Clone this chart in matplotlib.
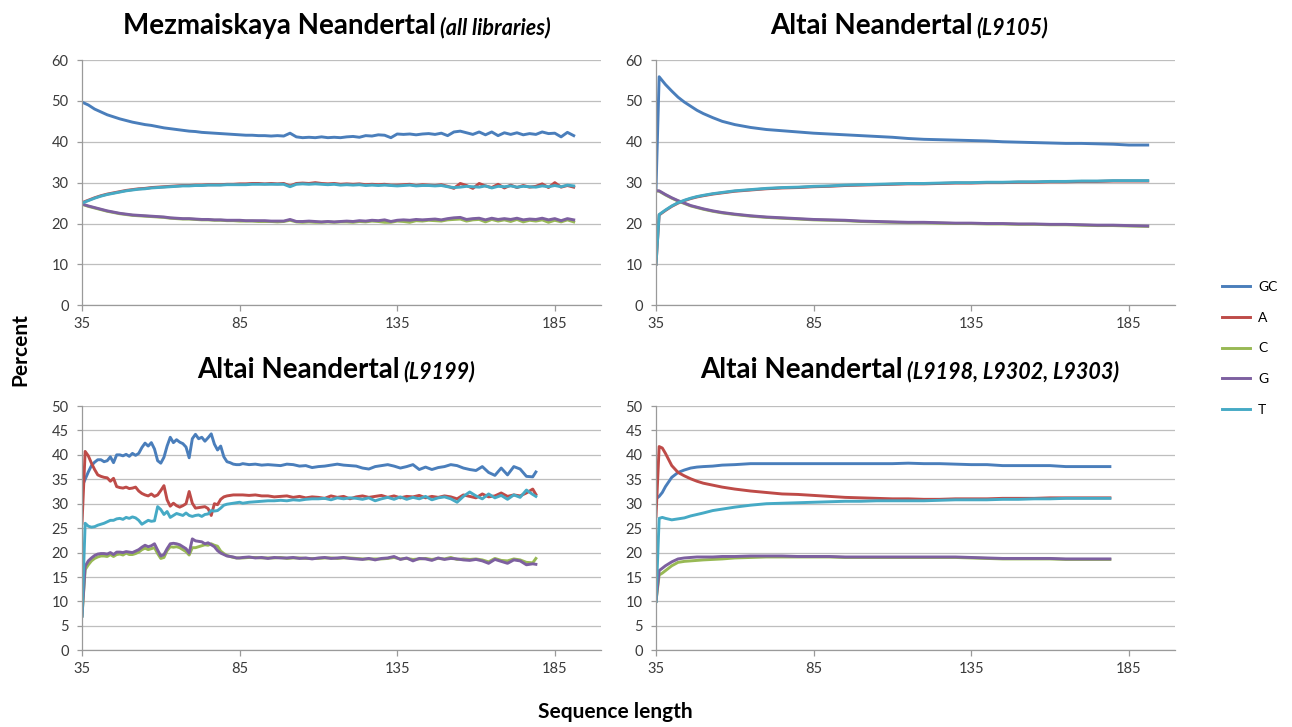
import matplotlib
matplotlib.use('Agg')
import matplotlib.pyplot as plt

plt.rcParams['font.family'] = ['Lato', 'DejaVu Sans']

series_names = ['GC', 'A', 'C', 'G', 'T']
series_colors = ['#4A7EBB', '#BE4B48', '#98B954', '#7D60A0', '#46AAC5']
x_ticks = [35, 85, 135, 185]

# --- Mezmaiskaya Neandertal (all libraries) ---
x1 = list(range(35, 192, 2))
gc1 = [49.7, 49.0, 48.0, 47.3, 46.6, 46.1, 45.6, 45.2, 44.8, 44.5,
       44.2, 44.0, 43.7, 43.4, 43.2, 43.0, 42.8, 42.6, 42.5, 42.3,
       42.2, 42.1, 42.0, 41.9, 41.8, 41.7, 41.6, 41.6, 41.5, 41.5,
       41.4, 41.5, 41.4, 42.1, 41.2, 41.0, 41.1, 41.0, 41.2, 41.0,
       41.1, 41.0, 41.2, 41.3, 41.1, 41.5, 41.4, 41.7, 41.6, 41.0,
       41.9, 41.8, 41.9, 41.7, 41.9, 42.0, 41.8, 42.1, 41.5, 42.4,
       42.6, 42.2, 41.8, 42.4, 41.7, 42.4, 41.5, 42.2, 41.8, 42.2,
       41.7, 42.0, 41.8, 42.4, 42.0, 42.1, 41.2, 42.3, 41.5]
a1 = [25.1, 25.7, 26.3, 26.8, 27.2, 27.5, 27.8, 28.1, 28.3, 28.5,
      28.6, 28.8, 28.9, 29.0, 29.1, 29.2, 29.3, 29.3, 29.4, 29.4,
      29.5, 29.5, 29.5, 29.6, 29.6, 29.7, 29.7, 29.8, 29.8, 29.7,
      29.8, 29.7, 29.8, 29.2, 29.8, 29.9, 29.8, 30.0, 29.8, 29.7,
      29.8, 29.6, 29.7, 29.6, 29.7, 29.5, 29.6, 29.5, 29.6, 29.4,
      29.4, 29.5, 29.6, 29.3, 29.5, 29.4, 29.3, 29.5, 29.1, 28.6,
      29.8, 29.3, 28.6, 29.8, 29.2, 28.8, 29.6, 28.7, 29.4, 28.8,
      29.3, 28.9, 29.1, 29.7, 28.8, 30.0, 28.9, 29.3, 28.9]
c1 = [24.7, 24.2, 23.8, 23.4, 23.0, 22.7, 22.4, 22.2, 22.0, 21.9,
      21.8, 21.7, 21.6, 21.5, 21.3, 21.2, 21.1, 21.1, 21.0, 20.9,
      20.9, 20.8, 20.8, 20.7, 20.7, 20.6, 20.6, 20.6, 20.5, 20.5,
      20.5, 20.4, 20.5, 20.8, 20.4, 20.3, 20.4, 20.3, 20.3, 20.4,
      20.3, 20.4, 20.4, 20.3, 20.5, 20.4, 20.6, 20.5, 20.3, 20.3,
      20.6, 20.5, 20.3, 20.7, 20.6, 20.8, 20.7, 20.6, 20.9, 21.0,
      21.1, 20.6, 20.9, 21.0, 20.4, 21.0, 20.6, 20.9, 20.5, 21.0,
      20.4, 20.8, 20.6, 20.9, 20.3, 20.8, 20.4, 20.9, 20.4]
g1 = [24.8, 24.3, 23.9, 23.5, 23.1, 22.8, 22.5, 22.3, 22.1, 22.0,
      21.9, 21.8, 21.7, 21.6, 21.4, 21.3, 21.2, 21.2, 21.1, 21.0,
      21.0, 20.9, 20.9, 20.8, 20.8, 20.8, 20.7, 20.7, 20.7, 20.7,
      20.6, 20.6, 20.6, 21.0, 20.5, 20.5, 20.6, 20.5, 20.4, 20.5,
      20.4, 20.5, 20.6, 20.5, 20.7, 20.6, 20.8, 20.7, 20.9, 20.5,
      20.8, 20.9, 20.8, 21.0, 20.9, 21.0, 21.1, 20.9, 21.2, 21.4,
      21.5, 21.0, 21.2, 21.3, 20.9, 21.3, 21.0, 21.2, 21.0, 21.3,
      20.9, 21.1, 21.0, 21.3, 20.9, 21.2, 20.7, 21.2, 20.9]
t1 = [25.0, 25.6, 26.2, 26.7, 27.1, 27.4, 27.7, 28.0, 28.2, 28.4,
      28.5, 28.7, 28.8, 28.9, 29.0, 29.1, 29.2, 29.2, 29.3, 29.3,
      29.4, 29.4, 29.4, 29.5, 29.5, 29.5, 29.5, 29.6, 29.6, 29.6,
      29.6, 29.6, 29.6, 29.0, 29.6, 29.7, 29.6, 29.7, 29.6, 29.5,
      29.6, 29.4, 29.5, 29.4, 29.5, 29.3, 29.4, 29.3, 29.4, 29.3,
      29.2, 29.3, 29.4, 29.2, 29.3, 29.3, 29.2, 29.3, 29.0, 28.8,
      28.9, 29.1, 29.0, 28.9, 29.2, 28.7, 29.1, 29.0, 29.2, 28.9,
      29.1, 29.0, 28.9, 29.2, 29.0, 29.3, 29.0, 29.4, 29.2]

# --- Altai Neandertal (L9105) ---
x2 = [35, 36, 38, 40, 42, 44, 46, 48, 50, 53, 56, 60, 65, 70, 75, 80, 85, 90, 95,
      100, 105, 110, 115, 120, 125, 130, 135, 140, 145, 150, 155, 160, 165, 170,
      175, 180, 185, 191]
gc2 = [28.5, 55.9, 54.0, 52.4, 50.9, 49.7, 48.7, 47.7, 46.9, 45.9, 45.0, 44.2,
       43.5, 43.0, 42.7, 42.4, 42.1, 41.9, 41.7, 41.5, 41.3, 41.1, 40.8, 40.6,
       40.5, 40.4, 40.3, 40.2, 40.0, 39.9, 39.8, 39.7, 39.6, 39.6, 39.5, 39.4,
       39.2, 39.2]
a2 = [10.0, 22.1, 23.2, 24.2, 25.0, 25.6, 26.1, 26.5, 26.8, 27.2, 27.5, 27.9,
      28.2, 28.5, 28.7, 28.8, 29.0, 29.1, 29.3, 29.4, 29.5, 29.6, 29.7, 29.7,
      29.8, 29.9, 29.9, 30.0, 30.0, 30.1, 30.1, 30.2, 30.2, 30.3, 30.3, 30.4,
      30.4, 30.4]
c2 = [28.0, 27.9, 27.0, 26.2, 25.5, 24.9, 24.3, 23.9, 23.5, 23.0, 22.6, 22.2,
      21.8, 21.5, 21.3, 21.1, 20.9, 20.8, 20.7, 20.5, 20.4, 20.3, 20.2, 20.2,
      20.1, 20.0, 20.0, 19.9, 19.9, 19.8, 19.8, 19.7, 19.7, 19.6, 19.5, 19.5,
      19.4, 19.3]
g2 = [28.0, 28.0, 27.1, 26.3, 25.6, 25.0, 24.4, 24.0, 23.6, 23.1, 22.7, 22.3,
      21.9, 21.6, 21.4, 21.2, 21.0, 20.9, 20.8, 20.6, 20.5, 20.4, 20.3, 20.3,
      20.2, 20.1, 20.1, 20.0, 20.0, 19.9, 19.9, 19.8, 19.8, 19.7, 19.6, 19.6,
      19.5, 19.4]
t2 = [10.0, 22.2, 23.3, 24.3, 25.1, 25.7, 26.2, 26.6, 26.9, 27.3, 27.6, 28.0,
      28.3, 28.6, 28.8, 28.9, 29.1, 29.2, 29.4, 29.5, 29.6, 29.7, 29.8, 29.8,
      29.9, 30.0, 30.0, 30.1, 30.1, 30.2, 30.2, 30.3, 30.3, 30.4, 30.4, 30.5,
      30.5, 30.5]

# --- Altai Neandertal (L9199) ---
x3 = list(range(35, 86)) + list(range(86, 179, 2)) + [179]
gc3 = [33.5, 35.0, 36.5, 37.8, 38.5, 39.0, 39.0, 38.6, 38.8, 39.6,
       38.4, 40.0, 40.0, 39.8, 40.1, 39.7, 40.3, 39.9, 40.3, 41.5,
       42.4, 41.8, 42.5, 41.2, 38.8, 38.3, 39.5, 41.8, 43.6, 42.5,
       43.1, 42.6, 42.3, 41.6, 39.4, 43.3, 44.2, 43.3, 43.6, 42.8,
       43.5, 44.3, 42.2, 41.0, 41.8, 39.6, 38.6, 38.4, 38.1, 38.0,
       38.0,
       38.2, 38.0, 38.1, 37.9, 38.0, 37.9, 37.8, 38.1, 38.0, 37.7,
       37.8, 37.4, 37.6, 37.7, 37.9, 38.1, 37.9, 37.8, 37.7, 37.3,
       37.1, 37.6, 37.8, 38.0, 37.7, 37.3, 37.6, 38.0, 37.0, 37.5,
       37.0, 37.4, 37.6, 38.0, 37.8, 37.3, 37.0, 36.8, 37.6, 36.4,
       35.8, 37.3, 35.9, 37.6, 37.1, 35.6, 35.5, 36.5]
a3 = [26.0, 40.7, 39.8, 38.3, 37.0, 35.9, 35.6, 35.4, 35.3, 34.6,
      35.2, 33.5, 33.3, 33.2, 33.4, 33.1, 33.2, 33.4, 32.6, 32.1,
      31.8, 31.6, 32.0, 31.5, 31.8, 32.7, 33.7, 30.8, 29.5, 30.1,
      29.6, 29.3, 29.6, 30.0, 32.5, 30.1, 29.1, 29.2, 29.3, 29.4,
      29.0, 27.6, 30.0, 29.8, 30.9, 31.4, 31.6, 31.7, 31.8, 31.8,
      31.8,
      31.8, 31.7, 31.8, 31.6, 31.6, 31.4, 31.5, 31.6, 31.3, 31.5,
      31.2, 31.4, 31.3, 31.1, 31.6, 31.3, 31.5, 31.0, 31.4, 31.6,
      31.3, 31.5, 31.7, 31.3, 31.6, 31.2, 31.5, 31.4, 31.7, 31.2,
      31.5, 31.3, 31.6, 31.4, 31.0, 31.8, 31.5, 31.2, 32.0, 31.4,
      31.6, 32.2, 31.5, 31.8, 31.6, 32.2, 33.0, 31.9]
c3 = [7.0, 16.5, 17.5, 18.3, 18.8, 19.1, 19.3, 19.3, 19.2, 19.6,
      19.2, 19.6, 19.7, 19.5, 19.9, 19.6, 19.6, 19.8, 20.1, 20.6,
      20.9, 20.6, 20.8, 21.0, 19.8, 18.8, 19.0, 20.4, 21.2, 21.1,
      21.2, 21.0, 20.6, 20.2, 19.5, 21.0, 21.0, 21.2, 21.4, 21.6,
      21.5, 21.8, 21.5, 21.3, 20.3, 19.8, 19.4, 19.2, 19.0, 18.9,
      18.9,
      18.9, 19.0, 19.0, 18.9, 18.9, 18.9, 19.0, 18.8, 18.9, 18.9,
      18.8, 18.8, 18.8, 18.9, 18.9, 18.8, 18.9, 18.9, 18.8, 18.7,
      18.7, 18.7, 18.7, 18.8, 19.0, 18.7, 18.8, 18.6, 18.7, 18.8,
      18.6, 18.8, 18.7, 19.0, 18.6, 18.7, 18.6, 18.7, 18.5, 18.1,
      18.8, 18.4, 18.3, 18.7, 18.5, 18.0, 17.9, 18.8]
g3 = [7.0, 17.2, 18.3, 18.9, 19.4, 19.7, 19.8, 19.8, 19.7, 20.0,
      19.6, 20.1, 20.1, 20.0, 20.2, 20.1, 20.0, 20.3, 20.6, 21.1,
      21.5, 21.2, 21.4, 21.8, 20.5, 19.3, 19.6, 20.8, 21.8, 21.9,
      21.8, 21.6, 21.2, 20.8, 19.9, 22.8, 22.4, 22.3, 22.2, 21.8,
      22.0, 21.6, 21.2, 20.4, 19.9, 19.6, 19.3, 19.2, 19.1, 18.9,
      18.9,
      19.0, 19.1, 18.9, 19.0, 18.8, 19.0, 18.9, 18.9, 19.0, 18.8,
      18.9, 18.7, 18.9, 19.0, 18.8, 18.9, 19.0, 18.8, 18.7, 18.6,
      18.8, 18.5, 18.8, 18.9, 19.2, 18.6, 18.9, 18.3, 18.8, 18.7,
      18.4, 18.9, 18.6, 18.8, 18.7, 18.5, 18.4, 18.6, 18.3, 17.8,
      18.6, 18.2, 17.8, 18.5, 18.3, 17.5, 17.7, 17.6]
t3 = [7.0, 26.0, 25.4, 25.2, 25.3, 25.6, 25.8, 26.0, 26.3, 26.6,
      26.6, 26.9, 27.0, 26.8, 27.2, 27.0, 27.3, 27.1, 26.6, 25.8,
      26.2, 26.6, 26.4, 26.5, 29.4, 28.8, 27.8, 28.4, 27.2, 27.6,
      28.0, 27.8, 27.6, 28.1, 27.6, 27.4, 27.6, 27.7, 27.4, 27.8,
      27.9, 28.6, 28.5, 28.6, 29.1, 29.7, 29.9, 30.0, 30.1, 30.2,
      30.3,
      30.1, 30.3, 30.4, 30.5, 30.6, 30.6, 30.7, 30.6, 30.8, 30.7,
      30.9, 31.0, 31.0, 31.1, 30.8, 31.2, 31.0, 31.2, 31.1, 30.9,
      31.2, 30.6, 31.0, 31.3, 30.9, 31.4, 30.9, 31.3, 31.0, 31.5,
      30.8, 31.2, 31.4, 31.0, 30.3, 31.5, 32.4, 31.6, 31.0, 32.0,
      31.2, 31.7, 30.9, 31.8, 31.3, 32.8, 31.9, 31.5]

# --- Altai Neandertal (L9198, L9302, L9303) ---
x4 = [35, 36, 37, 38, 40, 42, 44, 46, 48, 50, 53, 56, 60, 65, 70, 75, 80, 85, 90,
      95, 100, 105, 110, 115, 120, 125, 130, 135, 140, 145, 150, 155, 160, 165,
      170, 175, 179]
gc4 = [31.0, 31.5, 32.3, 33.5, 35.4, 36.4, 36.9, 37.3, 37.5, 37.6, 37.7, 37.9,
       38.0, 38.2, 38.2, 38.2, 38.2, 38.2, 38.2, 38.2, 38.2, 38.2, 38.2, 38.3,
       38.2, 38.2, 38.1, 38.0, 38.0, 37.8, 37.8, 37.8, 37.8, 37.6, 37.6, 37.6,
       37.6]
a4 = [27.4, 41.7, 41.4, 40.3, 37.8, 36.4, 35.7, 35.1, 34.6, 34.2, 33.8, 33.4,
      33.0, 32.6, 32.3, 32.0, 31.9, 31.7, 31.5, 31.3, 31.2, 31.1, 31.0, 31.0,
      30.9, 30.9, 31.0, 31.0, 31.0, 31.1, 31.1, 31.1, 31.2, 31.2, 31.2, 31.2,
      31.2]
c4 = [10.0, 15.4, 15.8, 16.3, 17.3, 18.0, 18.2, 18.3, 18.4, 18.5, 18.6, 18.7,
      18.9, 19.0, 19.1, 19.1, 19.1, 19.1, 19.1, 19.0, 19.0, 19.0, 19.0, 19.0,
      19.0, 19.0, 19.0, 18.9, 18.8, 18.7, 18.7, 18.7, 18.7, 18.6, 18.6, 18.6,
      18.6]
g4 = [10.0, 16.3, 16.8, 17.3, 18.1, 18.7, 18.9, 19.0, 19.1, 19.1, 19.1, 19.2,
      19.2, 19.3, 19.3, 19.3, 19.2, 19.2, 19.2, 19.1, 19.1, 19.1, 19.1, 19.1,
      19.1, 19.1, 19.1, 19.0, 18.9, 18.8, 18.8, 18.8, 18.8, 18.7, 18.7, 18.7,
      18.7]
t4 = [10.0, 27.0, 27.2, 27.0, 26.7, 26.9, 27.1, 27.5, 27.8, 28.1, 28.6, 28.9,
      29.3, 29.7, 30.0, 30.1, 30.2, 30.3, 30.4, 30.5, 30.5, 30.6, 30.6, 30.6,
      30.6, 30.7, 30.8, 30.8, 30.8, 30.9, 30.9, 31.0, 31.0, 31.1, 31.1, 31.1,
      31.1]

W, H = 1292, 727


def px_box(left, top, right, bottom):
    # pixel box -> figure fraction [l, b, w, h]
    return [left / W, 1 - bottom / H, (right - left) / W, (bottom - top) / H]


def draw_title(fig, renderer, cx, base_y, main, sub):
    ta = fig.text(0, 1 - base_y / H, main, fontsize=20, fontweight='bold',
                  ha='left', va='baseline')
    tb = fig.text(0, 1 - base_y / H, sub, fontsize=15.5, fontweight='bold',
                  fontstyle='italic', ha='left', va='baseline')
    wa = ta.get_window_extent(renderer).width
    wb = tb.get_window_extent(renderer).width
    x0 = cx - (wa + 4 + wb) / 2
    ta.set_x(x0 / W)
    tb.set_x((x0 + wa + 4) / W)


def panel(ax, x, ys, ymax, ystep):
    lines = []
    for y, c, n in zip(ys, series_colors, series_names):
        ln, = ax.plot(x, y, color=c, lw=2.1, label=n, solid_joinstyle='round')
        lines.append(ln)
    ax.set_xlim(35, 199.5)
    ax.set_ylim(0, ymax)
    ax.set_xticks(x_ticks)
    ax.set_yticks(range(0, ymax + 1, ystep))
    ax.grid(axis='y', color='#BEBEBE', lw=0.9)
    ax.set_axisbelow(True)
    for s in ['top', 'right']:
        ax.spines[s].set_visible(False)
    for s in ['left', 'bottom']:
        ax.spines[s].set_color('#9A9A9A')
        ax.spines[s].set_linewidth(0.9)
    ax.tick_params(axis='y', direction='out', length=3.6, width=0.9, color='#9A9A9A',
                   labelsize=10.5, labelcolor='#3A3A3A', pad=6)
    ax.tick_params(axis='x', direction='out', length=4.5, width=0.9, color='#9A9A9A',
                   labelsize=10.5, labelcolor='#3A3A3A', pad=4)
    return lines


def main():
    fig = plt.figure(figsize=(W / 100, H / 100), dpi=100)
    ax1 = fig.add_axes(px_box(82, 60, 600.5, 305.3))
    ax2 = fig.add_axes(px_box(656, 60, 1174.5, 305.3))
    ax3 = fig.add_axes(px_box(82, 406, 600.5, 650.3))
    ax4 = fig.add_axes(px_box(656, 406, 1174.5, 650.3))

    lines = panel(ax1, x1, [gc1, a1, c1, g1, t1], 60, 10)
    panel(ax2, x2, [gc2, a2, c2, g2, t2], 60, 10)
    panel(ax3, x3, [gc3, a3, c3, g3, t3], 50, 5)
    panel(ax4, x4, [gc4, a4, c4, g4, t4], 50, 5)

    renderer = fig.canvas.get_renderer()
    draw_title(fig, renderer, 337, 34, 'Mezmaiskaya Neandertal', '(all libraries)')
    draw_title(fig, renderer, 909, 34, 'Altai Neandertal', '(L9105)')
    draw_title(fig, renderer, 336, 378, 'Altai Neandertal', '(L9199)')
    draw_title(fig, renderer, 910, 378, 'Altai Neandertal', '(L9198, L9302, L9303)')

    fig.text(20 / W, 1 - 350 / H, 'Percent', rotation=90, fontsize=15,
             fontweight='bold', ha='center', va='center')
    fig.text(615 / W, 1 - 712 / H, 'Sequence length', fontsize=15,
             fontweight='bold', ha='center', va='center')

    fig.legend(lines, series_names, loc='upper left',
               bbox_to_anchor=(1222 / W, 1 - 281 / H), frameon=False,
               fontsize=10, handlelength=2.0, handletextpad=0.6,
               labelspacing=1.35, borderpad=0, borderaxespad=0)

    fig.savefig('out.png', dpi=100)


if __name__ == '__main__':
    main()
